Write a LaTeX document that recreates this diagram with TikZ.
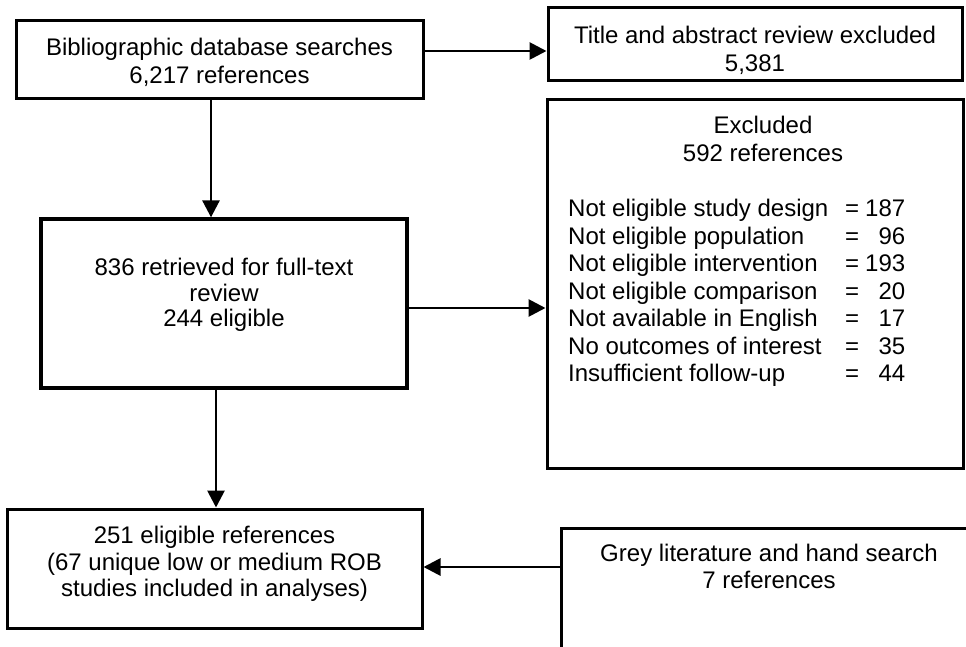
\documentclass[tikz,border=0pt]{standalone}
\usepackage{fontspec}
\setmainfont{Liberation Sans}
\usetikzlibrary{arrows.meta}
\begin{document}
\begin{tikzpicture}[x=1pt,y=-1pt,
  box/.style={draw, line width=3pt, inner sep=0pt, align=center},
  f28/.style={font=\fontsize{24}{28}\selectfont},
  conn/.style={line width=2.8pt, -{Triangle[length=17pt,width=17pt]}}]
\fill[white] (0,0) rectangle (966,647);
\useasboundingbox (0,0) rectangle (966,647);

\node[box, f28, minimum width=407pt, minimum height=78pt, text height=47.2pt, text depth=0pt] (b1) at (219.5,60)
  {Bibliographic database searches\\6,217 references};
\node[box, f28, minimum width=414pt, minimum height=73pt, text height=54.2pt, text depth=0pt] (t) at (755,44.5)
  {Title and abstract review excluded\\5,381};
\node[box, f28, minimum width=416pt, minimum height=368pt, text height=0pt, text depth=244.8pt] (ex) at (755,284)
  {\hspace*{16pt}Excluded\\\hspace*{16pt}592 references};
\node[anchor=base west, inner sep=0pt, font=\fontsize{24}{27.5}\selectfont] (exlist) at (568,216.6)
  {\begin{tabular}[t]{@{}p{277pt}@{}l@{\hspace{6pt}}r@{}}
   Not eligible study design & = & 187\\
   Not eligible population & = & 96\hspace{7pt}\\
   Not eligible intervention & = & 193\\
   Not eligible comparison & = & 20\\
   Not available in English & = & 17\\
   No outcomes of interest & = & 35\\
   Insufficient follow-up & = & 44
   \end{tabular}};
\node[box, line width=3.3pt, font=\fontsize{24}{25.5}\selectfont, minimum width=366pt, minimum height=169pt, text height=46.2pt, text depth=0pt] (b4) at (224,303.5)
  {836 retrieved for full-text\\review\\244 eligible};
\node[box, font=\fontsize{24}{26.5}\selectfont, minimum width=415pt, minimum height=119pt, text height=56.2pt, text depth=0pt] (b5) at (214.5,568.5)
  {251 eligible references\\(67 unique low or medium ROB\\studies included in analyses)};
\node[box, font=\fontsize{24}{27}\selectfont, minimum width=416pt, minimum height=162pt, text height=0pt, text depth=40.8pt] (g) at (769,609)
  {Grey literature and hand search\\7 references};

\coordinate (y1) at (0,51);
\coordinate (x1) at (211,0);
\coordinate (y2) at (0,308);
\coordinate (x2) at (216,0);
\coordinate (y3) at (0,567);
\draw[conn] (b1.east |- y1) -- (t.west |- y1);
\draw[conn] (b1.south -| x1) -- (b4.north -| x1);
\draw[conn] (b4.east |- y2) -- (ex.west |- y2);
\draw[conn] (b4.south -| x2) -- (b5.north -| x2);
\draw[conn] (g.west |- y3) -- (b5.east |- y3);
\end{tikzpicture}
\end{document}
